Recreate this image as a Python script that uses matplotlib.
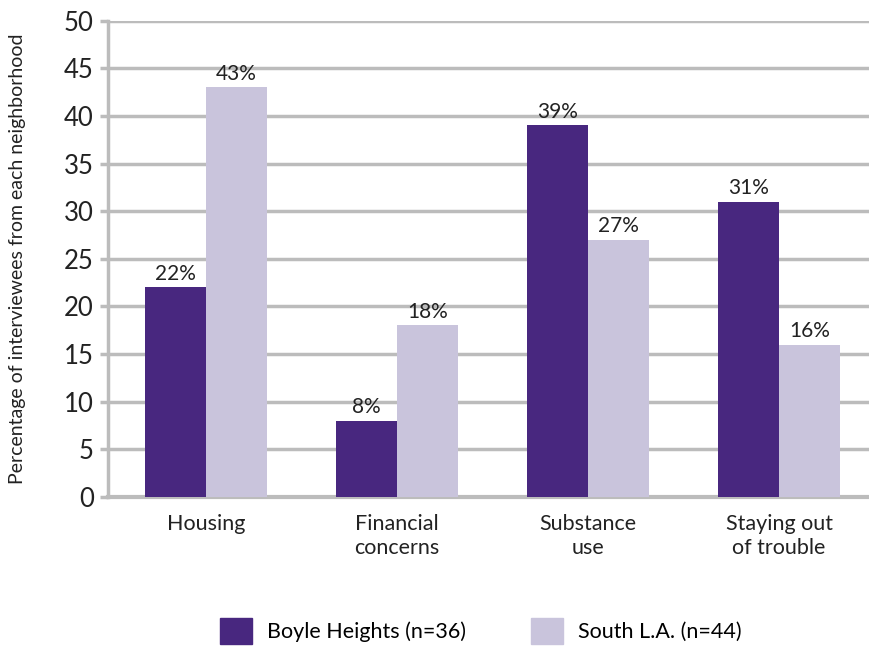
import matplotlib
matplotlib.use("Agg")
import matplotlib.pyplot as plt
import numpy as np
from matplotlib.patches import Patch

categories = ["Housing", "Financial\nconcerns", "Substance\nuse", "Staying out\nof trouble"]
boyle = [22, 8, 39, 31]
south = [43, 18, 27, 16]
series_names = ["Boyle Heights (n=36)", "South L.A. (n=44)"]
yticks = [0, 5, 10, 15, 20, 25, 30, 35, 40, 45, 50]

dark = "#48277f"
light = "#c9c4dc"
grid = "#bcbcbc"

plt.rcParams['font.family'] = ['Lato', 'DejaVu Sans']

fig = plt.figure(figsize=(8.69, 6.47), dpi=100)
ax = fig.add_axes([0.124, 0.232, 0.876, 0.736])

x = np.arange(len(categories))
w = 0.32
b1 = ax.bar(x - w/2, boyle, w, color=dark, zorder=3)
b2 = ax.bar(x + w/2, south, w, color=light, zorder=3)
for bars, vals in ((b1, boyle), (b2, south)):
    for r, v in zip(bars, vals):
        ax.text(r.get_x() + r.get_width()/2, v + 0.4, f"{v}%", ha="center", va="bottom",
                fontsize=15, color="#222222", zorder=4)

ax.set_ylim(0, 50)
ax.set_xlim(-0.513, 3.47)
ax.set_yticks(yticks)
ax.set_yticklabels([str(t) for t in yticks], fontsize=18.5, color="#222222")
ax.set_xticks(x)
ax.set_xticklabels(categories, fontsize=15.5, color="#222222", linespacing=1.3)
ax.tick_params(axis='x', length=0, pad=12)
ax.tick_params(axis='y', length=6, width=2.5, color=grid, pad=4)
ax.yaxis.grid(True, color=grid, linewidth=2.5, zorder=0)
for s in ("top", "right"):
    ax.spines[s].set_visible(False)
ax.spines["left"].set_color(grid)
ax.spines["left"].set_linewidth(2.5)
ax.spines["bottom"].set_color(grid)
ax.spines["bottom"].set_linewidth(3)
ax.set_ylabel("Percentage of interviewees from each neighborhood", fontsize=14, color="#222222")
ax.yaxis.set_label_coords(-0.107, 0.5)

handles = [Patch(color=dark), Patch(color=light)]
fig.legend(handles, series_names, loc="lower center", bbox_to_anchor=(0.553, -0.025), ncol=2,
           frameon=False, fontsize=15.5, handlelength=1.5, handleheight=1.5, columnspacing=3.0,
           handletextpad=0.7)

fig.savefig("out.png", dpi=100)
